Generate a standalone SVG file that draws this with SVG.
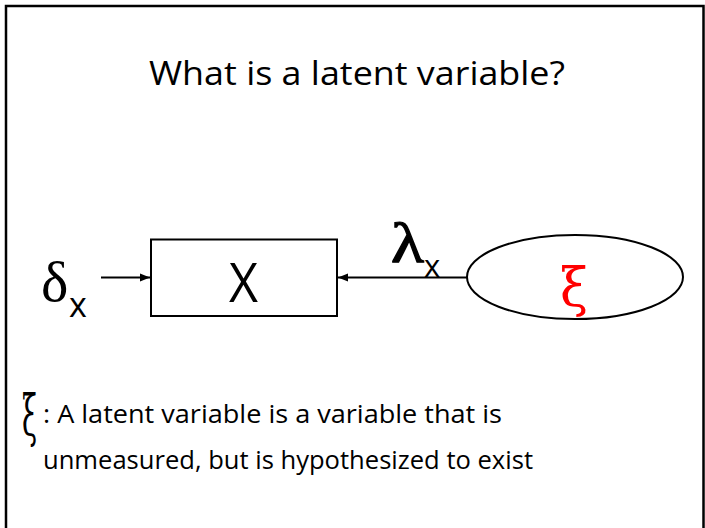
<svg xmlns="http://www.w3.org/2000/svg" width="705" height="528" viewBox="0 0 705 528">
<style>
.sans{font-family:"Open Sans","Noto Sans","Liberation Sans",sans-serif;fill:#000}
.serif{font-family:"Liberation Serif","DejaVu Serif",serif}
.greek{font-family:"DejaVu Serif","Liberation Serif",serif}
.line{stroke:#000;stroke-width:2;fill:none}
</style>
<defs>
<marker id="ah" viewBox="0 0 10 10" refX="10" refY="5" markerWidth="5" markerHeight="5" orient="auto" markerUnits="strokeWidth">
<path d="M0,1 L10,5 L0,9 z" fill="#000"/>
</marker>
</defs>
<rect x="0" y="0" width="705" height="528" fill="#fff"/>
<rect x="6" y="6" width="697.5" height="540" fill="none" stroke="#000" stroke-width="2.5"/>
<text class="sans" x="357" y="85" font-size="33" text-anchor="middle" textLength="416" lengthAdjust="spacingAndGlyphs">What is a latent variable?</text>
<g id="connectors">
<line class="line" x1="101" y1="277.5" x2="150" y2="277.5" marker-end="url(#ah)"/>
<line class="line" x1="467" y1="277.5" x2="338" y2="277.5" marker-end="url(#ah)"/>
<g id="lambda-label">
<text class="serif" x="391" y="262" font-size="58" stroke="#000" stroke-width="1.2" textLength="33" lengthAdjust="spacingAndGlyphs">λ</text>
<text class="sans" x="424" y="276.5" font-size="31">x</text>
</g>
</g>
<g id="delta">
<text class="serif" x="41" y="301" font-size="58">δ</text>
<text class="sans" x="69" y="316.5" font-size="34">x</text>
</g>
<g id="X">
<rect class="line" x="151" y="239.5" width="186" height="76.5"/>
<text class="sans" x="229" y="301.5" font-size="54" textLength="29" lengthAdjust="spacingAndGlyphs">X</text>
</g>
<g id="xi">
<ellipse class="line" cx="575" cy="277" rx="108" ry="42"/>
<text class="greek" x="560" y="306" font-size="54" fill="#f00" textLength="28" lengthAdjust="spacingAndGlyphs">ξ</text>
</g>
<g id="definition">
<text class="greek" x="22" y="435" font-size="56" textLength="15" lengthAdjust="spacingAndGlyphs">ξ</text>
<text class="sans" x="43" y="423" font-size="25" textLength="459" lengthAdjust="spacingAndGlyphs">: A latent variable is a variable that is</text>
<text class="sans" x="43" y="469" font-size="25" textLength="490" lengthAdjust="spacingAndGlyphs">unmeasured, but is hypothesized to exist</text>
</g>
</svg>
